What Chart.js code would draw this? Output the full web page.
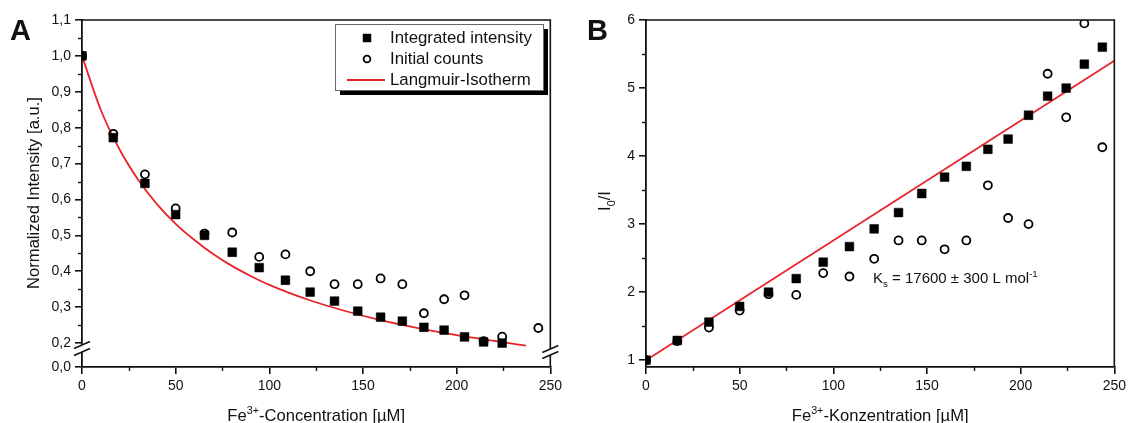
<!DOCTYPE html>
<html>
<head>
<meta charset="utf-8">
<script src="https://cdn.jsdelivr.net/npm/chart.js@4.4.1/dist/chart.umd.min.js"></script>
<style>
  body { margin: 0; background: #fff; }
  #wrapA { position: absolute; left: 0; top: 0; }
  #wrapB { position: absolute; left: 565px; top: 0; }
</style>
</head>
<body>
<div id="wrapA"><canvas id="chartA" width="566" height="423"></canvas></div>
<div id="wrapB"><canvas id="chartB" width="565" height="423"></canvas></div>
<script>
// shared concentrations (µM)
const conc = [0, 16.7, 33.6, 50, 65.4, 80.2, 94.6, 108.6, 121.8, 134.8, 147.2, 159.4, 171, 182.5, 193.3, 204.2, 214.4, 224.3, 234, 243.6];

// panel A: normalized intensity
const integratedA = [1.0, 0.772, 0.645, 0.558, 0.5, 0.453, 0.41, 0.375, 0.342, 0.317, 0.289, 0.272, 0.261, 0.244, 0.236, 0.217, 0.203, 0.2, null, null];
const countsA = [1.0, 0.783, 0.67, 0.575, 0.505, 0.508, 0.44, 0.447, 0.4, 0.364, 0.364, 0.38, 0.364, 0.283, 0.322, 0.333, 0.205, 0.218, null, 0.242];
const fitConcA = [0, 10, 20, 30, 40, 50, 60, 70, 80, 90, 100, 120, 140, 160, 180, 200, 220, 237];
const fitA = [1.0, 0.85, 0.74, 0.655, 0.587, 0.532, 0.487, 0.448, 0.415, 0.387, 0.362, 0.322, 0.29, 0.263, 0.241, 0.222, 0.206, 0.193];

// panel B: I0/I
const integratedB = [1.0, 1.29, 1.56, 1.79, 2.0, 2.2, 2.44, 2.67, 2.93, 3.17, 3.45, 3.69, 3.85, 4.1, 4.25, 4.6, 4.88, 5.0, 5.35, 5.6];
const countsB = [1.0, 1.28, 1.48, 1.73, 1.97, 1.96, 2.28, 2.23, 2.49, 2.76, 2.76, 2.63, 2.76, 3.57, 3.09, 3.0, 5.21, 4.57, 5.95, 4.13];
const fitConcB = [0, 250];
const fitB = [1.0, 5.4];

// ticks
const xTicks = [0, 50, 100, 150, 200, 250];
const xMinor = [25, 75, 125, 175, 225];
const yTicksA = [0.1333, 0.2, 0.3, 0.4, 0.5, 0.6, 0.7, 0.8, 0.9, 1.0, 1.1]; // 0,0 sits below the axis break
const yTickLabelsA = ['0,0', '0,2', '0,3', '0,4', '0,5', '0,6', '0,7', '0,8', '0,9', '1,0', '1,1'];
const yMinorA = [0.25, 0.35, 0.45, 0.55, 0.65, 0.75, 0.85, 0.95, 1.05];
const yTicksB = [1, 2, 3, 4, 5, 6];
const yMinorB = [1.5, 2.5, 3.5, 4.5, 5.5];

const FONT = '"Liberation Sans", Arial, sans-serif';
const INK = '#111';
const RED = '#e8232a';
Chart.defaults.font.family = FONT;
Chart.defaults.color = INK;

function pts(xs, ys) {
    return xs.map((x, i) => ({ x: x, y: ys[i] }));
}

function drawRich(ctx, parts, x, y, size, align) {
    const fontFor = k => (k ? size * 0.65 : size) + 'px ' + FONT;
    const widths = parts.map(p => { ctx.font = fontFor(p[1]); return ctx.measureText(p[0]).width; });
    const total = widths.reduce((a, b) => a + b, 0);
    let cx = align === 'center' ? x - total / 2 : x;
    ctx.textAlign = 'left';
    ctx.textBaseline = 'alphabetic';
    parts.forEach((p, i) => {
        ctx.font = fontFor(p[1]);
        const dy = p[1] === 'sup' ? -size * 0.42 : p[1] === 'sub' ? size * 0.28 : 0;
        ctx.fillText(p[0], cx, y + dy);
        cx += widths[i];
    });
}

function drawBreak(ctx, x, y1, y2) {
    ctx.save();
    ctx.fillStyle = '#fff';
    ctx.beginPath();
    ctx.moveTo(x - 3, y1 + 1.5);
    ctx.lineTo(x + 3, y1 - 1.5);
    ctx.lineTo(x + 3, y2 - 1.5);
    ctx.lineTo(x - 3, y2 + 1.5);
    ctx.closePath();
    ctx.fill();
    ctx.strokeStyle = INK;
    ctx.lineWidth = 1.5;
    [y1, y2].forEach(y => {
        ctx.beginPath();
        ctx.moveTo(x - 8, y + 3.5);
        ctx.lineTo(x + 8, y - 3.5);
        ctx.stroke();
    });
    ctx.restore();
}

const decorPlugin = {
    id: 'decor',
    afterDraw(chart, args, o) {
        const ctx = chart.ctx;
        const a = chart.chartArea;
        const xs = chart.scales.x, ys = chart.scales.y;
        ctx.save();
        ctx.strokeStyle = INK;
        ctx.lineWidth = 1.6;
        // top and right frame
        ctx.beginPath();
        ctx.moveTo(a.left, a.top);
        ctx.lineTo(a.right, a.top);
        ctx.lineTo(a.right, a.bottom);
        ctx.stroke();
        // minor ticks
        ctx.lineWidth = 1.4;
        xMinor.forEach(v => {
            const px = Math.round(xs.getPixelForValue(v)) + 0.5;
            ctx.beginPath(); ctx.moveTo(px, a.bottom); ctx.lineTo(px, a.bottom + 4); ctx.stroke();
        });
        o.yMinor.forEach(v => {
            const py = Math.round(ys.getPixelForValue(v)) + 0.5;
            ctx.beginPath(); ctx.moveTo(a.left, py); ctx.lineTo(a.left - 4, py); ctx.stroke();
        });
        // axis break
        if (o.breakAt !== undefined) {
            const yb = ys.getPixelForValue(o.breakAt);
            drawBreak(ctx, a.left, yb + 2, yb + 9);
            drawBreak(ctx, a.right, yb + 6, yb + 12);
        }
        ctx.fillStyle = INK;
        // x title
        drawRich(ctx, o.xTitle, (a.left + a.right) / 2, 421, 16.6, 'center');
        // y title
        ctx.save();
        ctx.translate(o.yTitleX, o.yTitleY);
        ctx.rotate(-Math.PI / 2);
        drawRich(ctx, o.yTitle, 0, 0, 16.6, 'center');
        ctx.restore();
        // panel letter
        ctx.font = 'bold 29px ' + FONT;
        ctx.textAlign = 'left';
        ctx.fillText(o.letter, o.letterX, 40);
        // annotation
        if (o.note) {
            drawRich(ctx, o.note, o.noteX, o.noteY, 15, 'left');
        }
        // legend
        if (o.legend) {
            const L = o.legend;
            ctx.fillStyle = '#000';
            ctx.fillRect(L.x + 5, L.y + 5, L.w, L.h);
            ctx.fillStyle = '#fff';
            ctx.fillRect(L.x, L.y, L.w, L.h);
            ctx.strokeStyle = '#666';
            ctx.lineWidth = 1;
            ctx.strokeRect(L.x + 0.5, L.y + 0.5, L.w, L.h);
            const ds = chart.data.datasets;
            const order = [1, 0, 2];
            order.forEach((di, row) => {
                const d = ds[di];
                const cy = L.y + 14 + row * 21;
                if (d.showLine) {
                    ctx.strokeStyle = d.borderColor;
                    ctx.lineWidth = 1.8;
                    ctx.beginPath(); ctx.moveTo(L.x + 12, cy); ctx.lineTo(L.x + 50, cy); ctx.stroke();
                } else {
                    ctx.fillStyle = d.backgroundColor;
                    ctx.strokeStyle = d.borderColor;
                    ctx.lineWidth = d.borderWidth;
                    ctx.beginPath();
                    if (d.pointStyle === 'rect') {
                        const s = 4;
                        ctx.rect(L.x + 32 - s, cy - s, 2 * s, 2 * s);
                    } else {
                        ctx.arc(L.x + 32, cy, 3.4, 0, Math.PI * 2);
                    }
                    ctx.fill();
                    ctx.stroke();
                }
                ctx.fillStyle = INK;
                ctx.font = '16.8px ' + FONT;
                ctx.textAlign = 'left';
                ctx.textBaseline = 'middle';
                ctx.fillText(d.label, L.x + 55, cy);
                ctx.textBaseline = 'alphabetic';
            });
        }
        ctx.restore();
    }
};

function datasets(ints, counts, fitX, fitY, xsData, fitLabel, monotone) {
    return [
        {
            label: 'Initial counts',
            data: pts(xsData, counts),
            pointStyle: 'circle',
            pointRadius: 4,
            borderWidth: 1.8,
            borderColor: '#000',
            backgroundColor: 'rgba(0,0,0,0)',
            showLine: false
        },
        {
            label: 'Integrated intensity',
            data: pts(xsData, ints),
            pointStyle: 'rect',
            pointRadius: 6.2,
            borderWidth: 0.5,
            borderColor: '#000',
            backgroundColor: '#000',
            showLine: false
        },
        {
            label: fitLabel,
            data: pts(fitX, fitY),
            showLine: true,
            pointRadius: 0,
            borderColor: RED,
            backgroundColor: RED,
            borderWidth: 1.8,
            cubicInterpolationMode: monotone ? 'monotone' : 'default'
        }
    ];
}

function makeOptions(cfg) {
    return {
        responsive: false,
        animation: false,
        devicePixelRatio: 1,
        layout: { padding: { left: 0, right: 12, top: 20, bottom: 0 } },
        plugins: {
            legend: { display: false },
            tooltip: { enabled: false },
            decor: cfg.decor
        },
        scales: {
            x: {
                type: 'linear',
                min: 0,
                max: 250,
                afterBuildTicks: s => { s.ticks = xTicks.map(v => ({ value: v })); },
                afterFit: s => { s.height = 56; },
                ticks: { font: { size: 14 }, color: INK, padding: 4, maxRotation: 0, autoSkip: false },
                grid: { drawOnChartArea: false, drawTicks: true, tickLength: 7, color: INK, lineWidth: 1.6 },
                border: { display: true, color: INK, width: 1.8 }
            },
            y: {
                type: 'linear',
                min: cfg.yMin,
                max: cfg.yMax,
                afterBuildTicks: s => { s.ticks = cfg.yTicks.map(v => ({ value: v })); },
                afterFit: s => { s.width = cfg.yWidth; },
                ticks: {
                    font: { size: 14 }, color: INK, padding: 4, autoSkip: false,
                    callback: (v, i) => cfg.yLabels[i]
                },
                grid: { drawOnChartArea: false, drawTicks: true, tickLength: 7, color: INK, lineWidth: 1.6 },
                border: { display: true, color: INK, width: 1.8 }
            }
        }
    };
}

document.addEventListener('DOMContentLoaded', function() {
    const ctxA = document.getElementById('chartA').getContext('2d');
    new Chart(ctxA, {
        type: 'scatter',
        data: { datasets: datasets(integratedA, countsA, fitConcA, fitA, conc, 'Langmuir-Isotherm', true) },
        options: makeOptions({
            yMin: 0.1333, yMax: 1.1, yTicks: yTicksA, yLabels: yTickLabelsA, yWidth: 82,
            decor: {
                yMinor: yMinorA,
                breakAt: 0.2,
                xTitle: [['Fe', ''], ['3+', 'sup'], ['-Concentration [µM]', '']],
                yTitle: [['Normalized Intensity [a.u.]', '']],
                yTitleX: 39, yTitleY: 193,
                letter: 'A', letterX: 10,
                legend: { x: 335, y: 24, w: 208, h: 66 }
            }
        }),
        plugins: [decorPlugin]
    });

    const ctxB = document.getElementById('chartB').getContext('2d');
    new Chart(ctxB, {
        type: 'scatter',
        data: { datasets: datasets(integratedB, countsB, fitConcB, fitB, conc, 'Stern-Volmer', false) },
        options: makeOptions({
            yMin: 0.9, yMax: 6, yTicks: yTicksB, yLabels: yTicksB.map(String), yWidth: 81,
            decor: {
                yMinor: yMinorB,
                xTitle: [['Fe', ''], ['3+', 'sup'], ['-Konzentration [µM]', '']],
                yTitle: [['I', ''], ['0', 'sub'], ['/I', '']],
                yTitleX: 45, yTitleY: 201,
                letter: 'B', letterX: 22,
                note: [['K', ''], ['s', 'sub'], [' = 17600 ± 300 L mol', ''], ['-1', 'sup']],
                noteX: 308, noteY: 283
            }
        }),
        plugins: [decorPlugin]
    });
});
</script>
</body>
</html>
